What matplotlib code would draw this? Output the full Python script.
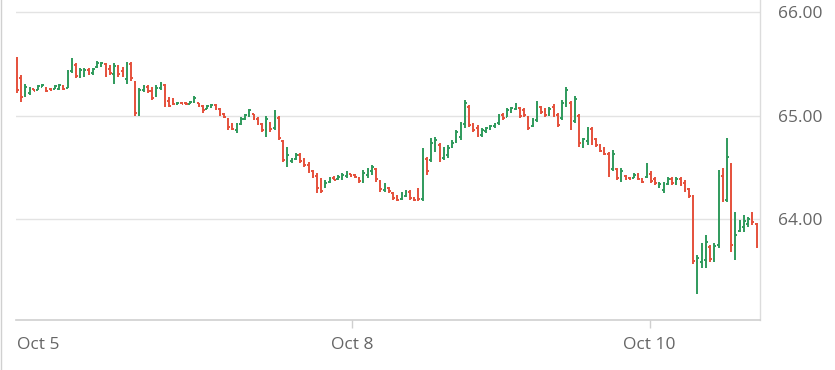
import matplotlib.pyplot as plt
import numpy as np
from matplotlib.lines import Line2D

# OHLC values (one bar per period)
opens = [65.54, 65.36, 65.20, 65.22, 65.26, 65.25, 65.28, 65.27, 65.26, 65.26,
         65.26, 65.29, 65.27, 65.43, 65.49, 65.38, 65.40, 65.44, 65.41, 65.47,
         65.49, 65.50, 65.45, 65.40, 65.47, 65.43, 65.35, 65.50, 65.33, 65.03,
         65.25, 65.28, 65.24, 65.19, 65.27, 65.30, 65.14, 65.14, 65.11, 65.12,
         65.12, 65.11, 65.13, 65.12, 65.09, 65.06, 65.08, 65.10, 65.06, 65.02,
         64.97, 64.90, 64.86, 64.92, 64.97, 65.00, 65.02, 64.97, 64.92, 64.86,
         64.93, 64.88, 64.98, 64.75, 64.55, 64.56, 64.58, 64.62, 64.57, 64.52,
         64.46, 64.42, 64.33, 64.31, 64.36, 64.40, 64.39, 64.40, 64.42, 64.44,
         64.43, 64.40, 64.37, 64.43, 64.46, 64.48, 64.37, 64.28, 64.30, 64.25,
         64.21, 64.19, 64.22, 64.26, 64.20, 64.27, 64.19, 64.58, 64.57, 64.68,
         64.72, 64.59, 64.62, 64.70, 64.75, 64.79, 64.92, 65.08, 64.91, 64.88,
         64.81, 64.85, 64.87, 64.90, 64.93, 65.01, 64.99, 65.04, 65.06, 65.07,
         65.05, 64.99, 64.90, 64.96, 65.08, 65.05, 65.01, 65.08, 65.01, 64.98,
         65.12, 65.12, 64.95, 65.00, 64.71, 64.75, 64.87, 64.77, 64.71, 64.68,
         64.63, 64.48, 64.48, 64.38, 64.42, 64.40, 64.40, 64.43, 64.39, 64.41,
         64.44, 64.39, 64.31, 64.28, 64.34, 64.39, 64.35, 64.39, 64.35, 64.29,
         64.22, 63.58, 63.58, 63.60, 63.73, 63.61, 63.75, 64.42, 64.18, 64.52,
         63.75, 63.88, 63.92, 63.95, 64.03, 63.95]
highs = [65.57, 65.39, 65.31, 65.28, 65.26, 65.30, 65.31, 65.28, 65.27, 65.30,
         65.31, 65.30, 65.44, 65.56, 65.51, 65.46, 65.46, 65.46, 65.46, 65.53,
         65.52, 65.51, 65.49, 65.51, 65.49, 65.47, 65.52, 65.52, 65.34, 65.27,
         65.30, 65.30, 65.28, 65.30, 65.33, 65.31, 65.18, 65.17, 65.13, 65.13,
         65.13, 65.14, 65.19, 65.12, 65.10, 65.10, 65.11, 65.11, 65.07, 65.03,
         64.98, 64.93, 64.93, 64.99, 65.02, 65.06, 65.02, 64.99, 64.93, 65.00,
         64.94, 65.05, 65.00, 64.76, 64.70, 64.59, 64.64, 64.64, 64.59, 64.55,
         64.47, 64.45, 64.40, 64.38, 64.41, 64.42, 64.43, 64.45, 64.46, 64.44,
         64.44, 64.41, 64.47, 64.49, 64.52, 64.49, 64.38, 64.35, 64.31, 64.26,
         64.23, 64.26, 64.28, 64.28, 64.21, 64.30, 64.69, 64.60, 64.78, 64.79,
         64.74, 64.70, 64.72, 64.76, 64.86, 64.94, 65.15, 65.10, 64.93, 64.91,
         64.88, 64.89, 64.91, 64.93, 65.02, 65.03, 65.07, 65.08, 65.12, 65.08,
         65.07, 65.00, 64.98, 65.14, 65.09, 65.07, 65.08, 65.11, 65.03, 65.15,
         65.28, 65.14, 65.19, 65.02, 64.78, 64.89, 64.89, 64.78, 64.73, 64.70,
         64.65, 64.67, 64.49, 64.49, 64.43, 64.41, 64.45, 64.45, 64.40, 64.54,
         64.46, 64.41, 64.36, 64.36, 64.41, 64.41, 64.41, 64.41, 64.38, 64.30,
         64.23, 63.65, 63.77, 63.85, 63.75, 63.77, 64.47, 64.49, 64.78, 64.54,
         64.07, 63.99, 64.04, 64.02, 64.07, 63.96]
lows = [65.22, 65.13, 65.18, 65.20, 65.24, 65.25, 65.28, 65.23, 65.24, 65.26,
        65.25, 65.25, 65.27, 65.41, 65.36, 65.36, 65.37, 65.39, 65.39, 65.46,
        65.47, 65.37, 65.39, 65.31, 65.37, 65.37, 65.31, 65.34, 65.00, 65.00,
        65.23, 65.22, 65.15, 65.18, 65.25, 65.08, 65.08, 65.10, 65.10, 65.11,
        65.10, 65.11, 65.12, 65.08, 65.03, 65.06, 65.07, 65.05, 65.00, 64.98,
        64.86, 64.86, 64.83, 64.91, 64.96, 64.99, 64.96, 64.91, 64.84, 64.79,
        64.84, 64.86, 64.76, 64.55, 64.50, 64.54, 64.57, 64.54, 64.50, 64.45,
        64.40, 64.25, 64.25, 64.30, 64.35, 64.38, 64.38, 64.38, 64.40, 64.41,
        64.40, 64.35, 64.35, 64.40, 64.43, 64.36, 64.26, 64.26, 64.25, 64.18,
        64.17, 64.18, 64.21, 64.18, 64.17, 64.17, 64.17, 64.43, 64.55, 64.65,
        64.55, 64.57, 64.59, 64.69, 64.74, 64.76, 64.88, 64.89, 64.84, 64.79,
        64.79, 64.83, 64.86, 64.88, 64.91, 64.96, 64.99, 65.03, 65.05, 64.98,
        64.99, 64.86, 64.89, 64.94, 65.02, 64.99, 65.00, 64.99, 64.89, 64.96,
        65.08, 64.86, 64.93, 64.70, 64.69, 64.72, 64.72, 64.70, 64.65, 64.62,
        64.41, 64.46, 64.38, 64.36, 64.38, 64.38, 64.40, 64.38, 64.35, 64.40,
        64.35, 64.33, 64.30, 64.25, 64.33, 64.33, 64.33, 64.32, 64.26, 64.20,
        63.56, 63.27, 63.53, 63.53, 63.58, 63.58, 63.72, 64.16, 64.16, 63.68,
        63.60, 63.87, 63.87, 63.92, 63.94, 63.72]
closes = [65.25, 65.18, 65.28, 65.26, 65.24, 65.29, 65.30, 65.24, 65.25, 65.29,
          65.30, 65.26, 65.42, 65.50, 65.38, 65.44, 65.44, 65.41, 65.45, 65.51,
          65.51, 65.39, 65.41, 65.48, 65.40, 65.39, 65.50, 65.36, 65.03, 65.25,
          65.28, 65.24, 65.17, 65.27, 65.31, 65.10, 65.09, 65.11, 65.12, 65.11,
          65.11, 65.13, 65.17, 65.09, 65.05, 65.09, 65.10, 65.06, 65.02, 64.99,
          64.89, 64.87, 64.92, 64.97, 65.01, 65.05, 64.98, 64.92, 64.86, 64.97,
          64.87, 65.02, 64.78, 64.57, 64.62, 64.58, 64.62, 64.56, 64.52, 64.47,
          64.42, 64.30, 64.27, 64.35, 64.39, 64.38, 64.41, 64.43, 64.44, 64.42,
          64.41, 64.37, 64.45, 64.47, 64.50, 64.39, 64.29, 64.32, 64.27, 64.20,
          64.18, 64.24, 64.26, 64.20, 64.18, 64.19, 64.66, 64.46, 64.74, 64.76,
          64.58, 64.67, 64.69, 64.74, 64.84, 64.92, 65.12, 64.91, 64.86, 64.81,
          64.86, 64.88, 64.90, 64.92, 65.00, 64.98, 65.05, 65.07, 65.10, 65.00,
          65.01, 64.88, 64.96, 65.11, 65.04, 65.01, 65.06, 65.01, 64.91, 65.12,
          65.25, 64.92, 65.16, 64.74, 64.77, 64.86, 64.76, 64.72, 64.66, 64.63,
          64.45, 64.63, 64.40, 64.46, 64.39, 64.39, 64.43, 64.39, 64.36, 64.50,
          64.37, 64.35, 64.34, 64.33, 64.39, 64.35, 64.39, 64.34, 64.28, 64.22,
          63.59, 63.62, 63.70, 63.78, 63.61, 63.74, 64.42, 64.18, 64.60, 63.75,
          63.85, 63.95, 63.98, 64.00, 63.97, 63.74]

# date labels (bar index where each label sits)
date_labels = ['Oct 5', 'Oct 8', 'Oct 10']
date_pos = [0, 79.4, 149.7]
price_ticks = [64, 65, 66]

GREEN = '#2f9a5c'
RED = '#e5503b'
GRID = '#e3e3e3'
TEXT = '#666666'

opens = np.array(opens)
highs = np.array(highs)
lows = np.array(lows)
closes = np.array(closes)
x = np.arange(len(closes))
colors = np.where(closes >= opens, GREEN, RED)

fig = plt.figure(figsize=(8.35, 3.7), dpi=100)
ax = fig.add_axes([16 / 835, 50 / 370, 744 / 835, 320 / 370])

# OHLC bars: vertical range, open tick left, close tick right
ax.vlines(x, lows, highs, colors=colors, linewidth=1.4, zorder=3)
ax.hlines(opens, x - 0.4, x, colors=colors, linewidth=1.4, zorder=3)
ax.hlines(closes, x, x + 0.4, colors=colors, linewidth=1.4, zorder=3)

ax.set_xlim(-0.2, 175.8)
ax.set_ylim(63.023, 66.119)

# horizontal grid
for p in price_ticks:
    ax.axhline(p, color=GRID, linewidth=1.0, zorder=1)

for side in ['top', 'left']:
    ax.spines[side].set_visible(False)
ax.spines['bottom'].set_color('#cfcfcf')
ax.spines['bottom'].set_linewidth(1.2)
ax.spines['right'].set_color('#dcdcdc')
ax.spines['right'].set_linewidth(1.0)

# price labels on the right
ax.yaxis.tick_right()
ax.set_yticks(price_ticks)
ax.set_yticklabels(['%.2f' % p for p in price_ticks])
ax.tick_params(axis='y', length=0, pad=13, labelsize=12.5, labelcolor=TEXT)

# date labels underneath
ax.set_xticks(date_pos)
ax.set_xticklabels(date_labels)
ax.tick_params(axis='x', length=6, width=1, color='#cfcfcf', pad=6,
               labelsize=12.5, labelcolor=TEXT)
first = ax.xaxis.get_major_ticks()[0]
first.tick1line.set_visible(False)
first.label1.set_horizontalalignment('left')

for lab in ax.get_xticklabels() + ax.get_yticklabels():
    lab.set_fontfamily(['Open Sans', 'DejaVu Sans'])

# thin border along the left edge of the figure
fig.add_artist(Line2D([0.0006, 0.0006], [0, 1], transform=fig.transFigure,
                      color='#d0d0d0', linewidth=1.0))

plt.savefig('out.png', dpi=100)
